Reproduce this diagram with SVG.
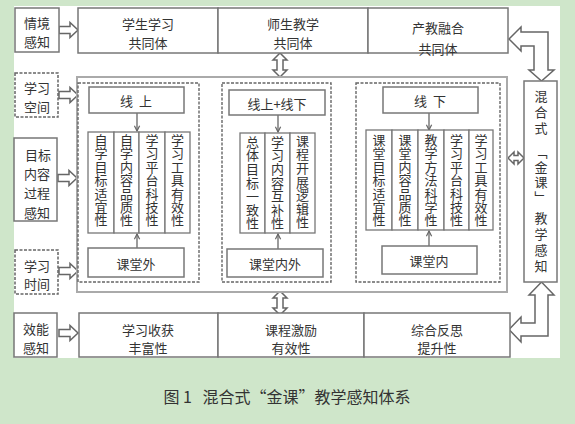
<svg xmlns="http://www.w3.org/2000/svg" xmlns:xlink="http://www.w3.org/1999/xlink" width="575" height="424" viewBox="0 0 575 424">
<style>
text{font-family:"Noto Sans CJK SC","Noto Sans",sans-serif;font-size:13px;fill:#333;text-anchor:middle;dominant-baseline:central}
.v{writing-mode:vertical-rl;letter-spacing:0.4px}
.box{fill:#fff;stroke:#777;stroke-width:1.5}
.dbox{fill:#fff;stroke:#666;stroke-width:1.5;stroke-dasharray:3 1.5}
.frame{fill:#fff;stroke:#aaa;stroke-width:2}
.dframe{fill:none;stroke:#666;stroke-width:1.4;stroke-dasharray:3 1.5}
.col{fill:#fff;stroke:#777;stroke-width:1.3}
.hol{fill:#fff;stroke:#666;stroke-width:1.5;stroke-linejoin:miter}
.thin{fill:none;stroke:#666;stroke-width:1.3}
.cap{font-size:16px;fill:#333}
</style>
<defs>
<marker id="ah" viewBox="0 0 8 8" refX="7" refY="4" markerWidth="7" markerHeight="7" orient="auto-start-reverse" markerUnits="userSpaceOnUse">
<path d="M1,1 L7,4 L1,7" fill="none" stroke="#666" stroke-width="1.4"/>
</marker>
<path id="rarrow" d="M0,-3.5 H11 V-7.5 L19,0 L11,7.5 V3.5 H0 Z"/>
<path id="vdouble" d="M0,0 L7,7 H3 V17 H7 L0,24 L-7,17 H-3 V7 H-7 Z"/>
</defs>
<rect width="575" height="424" fill="#cfe6ca"/>
<rect x="14" y="6" width="546" height="352" fill="#fff"/>

<g id="connectors">
<use xlink:href="#rarrow" class="hol" transform="translate(59,30)"/>
<use xlink:href="#rarrow" class="hol" transform="translate(59,95)"/>
<use xlink:href="#rarrow" class="hol" transform="translate(58,178)"/>
<use xlink:href="#rarrow" class="hol" transform="translate(59,271)"/>
<use xlink:href="#rarrow" class="hol" transform="translate(59,333)"/>
<use xlink:href="#vdouble" class="hol" transform="translate(280,53)"/>
<use xlink:href="#vdouble" class="hol" transform="translate(280,291)"/>
<path class="hol" d="M508,158 L514,152 V155.5 H518 V152 L524,158 L518,164 V160.5 H514 V164 Z"/>
<path class="hol" d="M509,39 L521,27 V32 H548 V70 H554 L541.5,81 L529,70 H534 V46 H521 V51 Z"/>
<path class="hol" d="M509,329.5 L521,317 V323 H535 V295 H529 L541.5,282 L554,295 H548 V336 H521 V342 Z"/>
<line class="thin" x1="201" y1="101" x2="221" y2="101" marker-start="url(#ah)" marker-end="url(#ah)"/>
<line class="thin" x1="201" y1="183" x2="221" y2="183" marker-start="url(#ah)" marker-end="url(#ah)"/>
<line class="thin" x1="201" y1="259" x2="221" y2="259" marker-start="url(#ah)" marker-end="url(#ah)"/>
<line class="thin" x1="333" y1="101" x2="355" y2="101" marker-start="url(#ah)" marker-end="url(#ah)"/>
<line class="thin" x1="333" y1="183" x2="355" y2="183" marker-start="url(#ah)" marker-end="url(#ah)"/>
<line class="thin" x1="333" y1="259" x2="355" y2="259" marker-start="url(#ah)" marker-end="url(#ah)"/>
</g>

<g id="frame-main"><rect class="frame" x="77" y="77" width="430" height="215"/></g>
<g id="frame-online"><rect class="dframe" x="78" y="83" width="121" height="199"/></g>
<g id="frame-blend"><rect class="dframe" x="222" y="83" width="109" height="199"/></g>
<g id="frame-offline"><rect class="dframe" x="356" y="83" width="144" height="199"/></g>

<g id="connectors-inner">
<line class="thin" x1="137" y1="113" x2="137" y2="131" marker-end="url(#ah)"/>
<line class="thin" x1="137" y1="248" x2="137" y2="234" marker-end="url(#ah)"/>
<line class="thin" x1="278" y1="115" x2="278" y2="132" marker-end="url(#ah)"/>
<line class="thin" x1="278" y1="249" x2="278" y2="234" marker-end="url(#ah)"/>
<line class="thin" x1="429" y1="113" x2="429" y2="130" marker-end="url(#ah)"/>
<line class="thin" x1="429" y1="246" x2="429" y2="231" marker-end="url(#ah)"/>
</g>

<g id="top-1"><rect class="box" x="78" y="8" width="140" height="45"/><text x="148" y="23">学生学习</text><text x="148" y="42">共同体</text></g>
<g id="top-2"><rect class="box" x="218" y="8" width="150" height="45"/><text x="293" y="23">师生教学</text><text x="293" y="42">共同体</text></g>
<g id="top-3"><rect class="box" x="368" y="8" width="140" height="45"/><text x="438" y="27">产教融合</text><text x="438" y="48">共同体</text></g>

<g id="bot-1"><rect class="box" x="79" y="313" width="139" height="44"/><text x="148" y="329">学习收获</text><text x="148" y="347">丰富性</text></g>
<g id="bot-2"><rect class="box" x="218" y="313" width="146" height="44"/><text x="291" y="329">课程激励</text><text x="291" y="347">有效性</text></g>
<g id="bot-3"><rect class="box" x="364" y="313" width="146" height="44"/><text x="437" y="329">综合反思</text><text x="437" y="347">提升性</text></g>

<g id="left-1"><rect class="box" x="15" y="8" width="44" height="44"/><text x="37" y="22">情境</text><text x="37" y="41">感知</text></g>
<g id="left-2"><rect class="dbox" x="15" y="73" width="43" height="44"/><text x="37" y="87">学习</text><text x="37" y="106">空间</text></g>
<g id="left-3"><rect class="box" x="14" y="138" width="43" height="83"/><text x="38" y="154">目标</text><text x="37" y="173">内容</text><text x="37" y="192">过程</text><text x="37" y="212">感知</text></g>
<g id="left-4"><rect class="dbox" x="15" y="250" width="43" height="44"/><text x="37" y="265">学习</text><text x="37" y="283">时间</text></g>
<g id="left-5"><rect class="box" x="14" y="313" width="43" height="44"/><text x="36" y="328">效能</text><text x="36" y="347">感知</text></g>

<g id="right"><rect class="box" x="524" y="81" width="33" height="201"/>
<text class="v" x="541" y="114" style="letter-spacing:3px">混合式</text>
<text class="v" x="541" y="176" style="letter-spacing:2px">﹁金课﹂</text>
<text class="v" x="541" y="244" style="letter-spacing:3px">教学感知</text></g>

<g id="online"><rect class="box" x="89" y="87" width="95" height="26"/><text x="136" y="100" xml:space="preserve">线  上</text></g>
<g id="online-cols">
<rect class="col" x="88" y="132" width="26" height="101"/><rect class="col" x="114" y="132" width="25" height="101"/><rect class="col" x="139" y="132" width="26" height="101"/><rect class="col" x="165" y="132" width="25" height="101"/>
<text class="v" x="101" y="180.5">自学目标适宜性</text>
<text class="v" x="126.5" y="180.5">自学内容品质性</text>
<text class="v" x="152" y="180.5">学习平台科技性</text>
<text class="v" x="177.5" y="180.5">学习工具有效性</text>
</g>
<g id="outside"><rect class="box" x="88" y="248" width="96" height="29"/><text x="136" y="263">课堂外</text></g>

<g id="blend"><rect class="box" x="229" y="90" width="96" height="25"/><text x="277" y="103">线上+线下</text></g>
<g id="blend-cols">
<rect class="col" x="240" y="133" width="25" height="100"/><rect class="col" x="265" y="133" width="25" height="100"/><rect class="col" x="290" y="133" width="25" height="100"/>
<text class="v" x="252.5" y="183" style="letter-spacing:0.6px">总体目标一致性</text>
<text class="v" x="277.5" y="183" style="letter-spacing:0.6px">学习内容互补性</text>
<text class="v" x="302.5" y="182" style="letter-spacing:0.6px">课程开展逻辑性</text>
</g>
<g id="inout"><rect class="box" x="227" y="249" width="96" height="28"/><text x="275" y="263">课堂内外</text></g>

<g id="offline"><rect class="box" x="383" y="87" width="95" height="26"/><text x="430" y="100" xml:space="preserve">线  下</text></g>
<g id="offline-cols">
<rect class="col" x="366" y="130" width="26" height="100"/><rect class="col" x="392" y="130" width="26" height="100"/><rect class="col" x="418" y="130" width="26" height="100"/><rect class="col" x="444" y="130" width="25" height="100"/><rect class="col" x="469" y="130" width="24" height="100"/>
<text class="v" x="379" y="180.5">课堂目标适宜性</text>
<text class="v" x="405" y="180.5">课堂内容品质性</text>
<text class="v" x="431" y="180.5">教学方法科学性</text>
<text class="v" x="456.5" y="180.5">学习平台科技性</text>
<text class="v" x="481" y="180.5">学习工具有效性</text>
</g>
<g id="inside"><rect class="box" x="382" y="246" width="95" height="28"/><text x="429" y="260">课堂内</text></g>

<g id="caption"><text class="cap" x="287" y="396" xml:space="preserve">图 1   混合式“金课”教学感知体系</text></g>
</svg>
